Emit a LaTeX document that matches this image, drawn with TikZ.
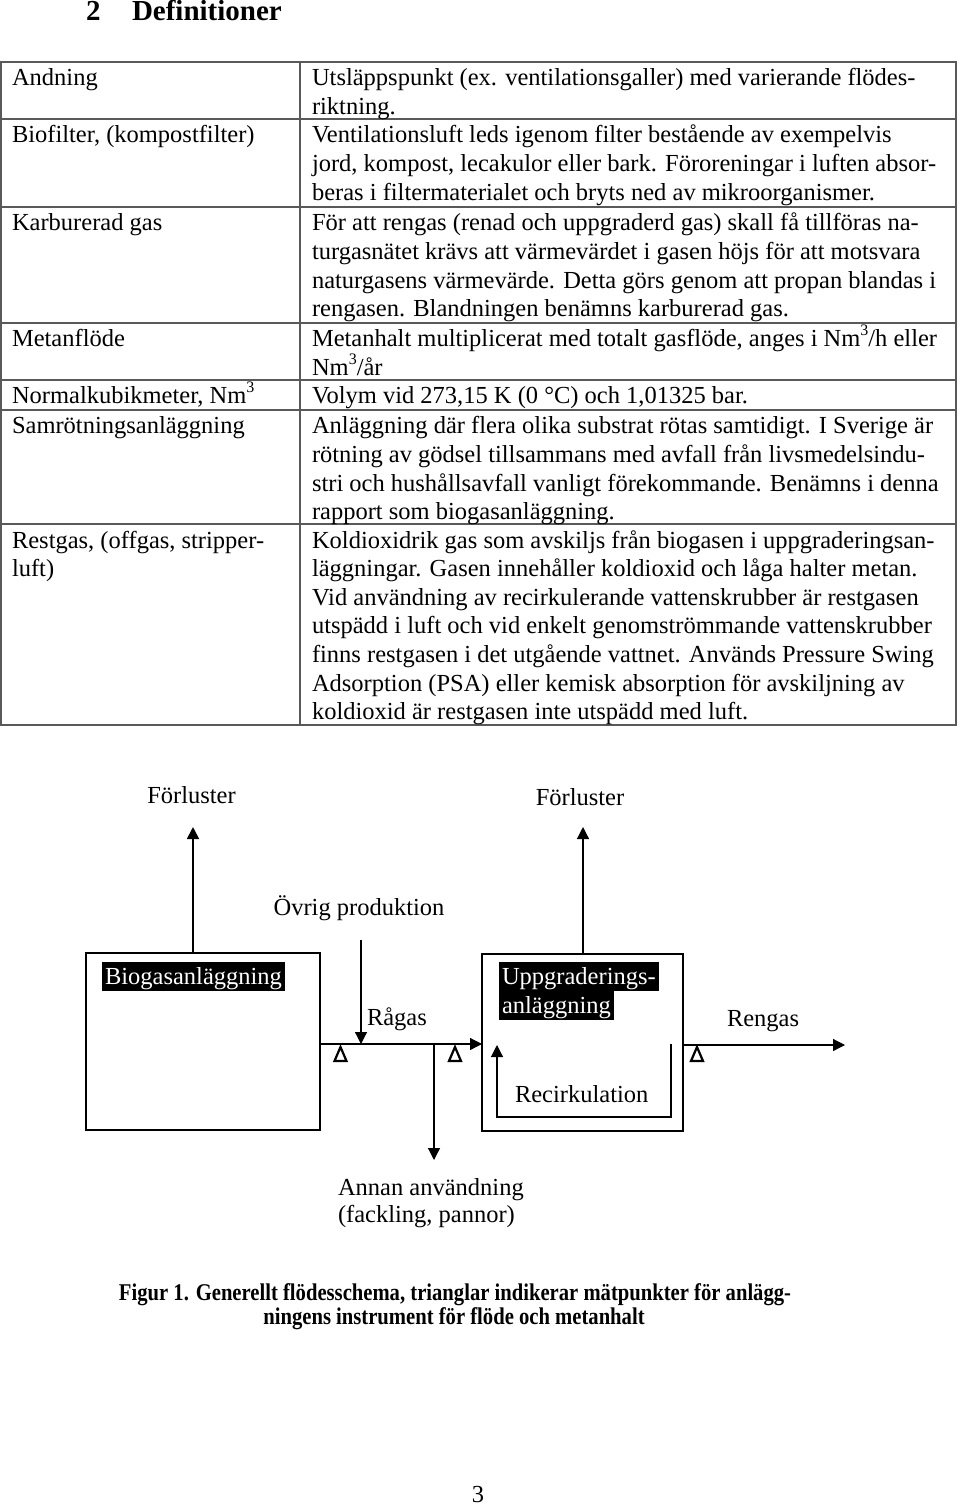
\documentclass[tikz,border=0pt]{standalone}
\usepackage{fontspec}
\setmainfont{Liberation Serif}
\newfontfamily\capfont[FakeStretch=0.86]{Liberation Serif}
\usetikzlibrary{arrows.meta}
\newcommand\supthree{\raisebox{0.45em}{\fontsize{8pt}{8pt}\selectfont 3}}
\begin{document}
\begin{tikzpicture}[x=0.5pt,y=-0.5pt,
  every node/.style={inner sep=0pt, outer sep=0pt},
  txt/.style={anchor=base west, font=\fontsize{12.25pt}{14pt}\selectfont},
  ctxt/.style={anchor=base, font=\fontsize{12.25pt}{14pt}\selectfont},
  tri/.style={draw, line width=1.1pt, line join=miter},
  head/.style={anchor=base west, font=\fontsize{14.5pt}{16pt}\selectfont\bfseries},
  grid/.style={draw=black!65, line width=0.8pt},
  blockbox/.style={draw, line width=1pt},
  arr/.style={-{Triangle[length=6pt,width=6pt]}, line width=0.6pt},
  hl/.style={fill=black, text=white, anchor=base west, font=\fontsize{12.25pt}{14pt}\selectfont,
    text height=11pt, text depth=3.5pt, inner xsep=1.5pt},
  capt/.style={anchor=base, font=\capfont\bfseries\fontsize{12pt}{13pt}\selectfont}]
\fill[white] (0,0) rectangle (960,1507);
\useasboundingbox (0,0) rectangle (960,1507);

% heading
\node[head] (hnum) at (86,21) {2};
\node[head] (htitle) at (132,21) {Definitioner};

% table grid
\draw[grid] (1,62) rectangle (956,725);
\draw[grid] (300,62) -- (300,725);
\foreach \yy in {119,207,323,380,410,524} \draw[grid] (1,\yy) -- (956,\yy);

% left column
\node[txt] (l1) at (12,86) {Andning};
\node[txt] (l2) at (12,143) {Biofilter, (kompostfilter)};
\node[txt] (l3) at (12,231) {Karburerad gas};
\node[txt] (l4) at (12,347) {Metanflöde};
\node[txt] (l5) at (12,404) {Normalkubikmeter, Nm\supthree};
\node[txt] (l6) at (12,434) {Samrötningsanläggning};
\node[txt] (l7a) at (12,548) {Restgas, (offgas, stripper-};
\node[txt] (l7b) at (12,576.6) {luft)};

% right column
\foreach \t [count=\i from 0] in {{Utsläppspunkt (ex. ventilationsgaller) med varierande flödes-},{riktning.}}
  \node[txt] (ra\i) at (312,{86+28.6*\i}) {\t};
\foreach \t [count=\i from 0] in {{Ventilationsluft leds igenom filter bestående av exempelvis},{jord, kompost, lecakulor eller bark. Föroreningar i luften absor-},{beras i filtermaterialet och bryts ned av mikroorganismer.}}
  \node[txt] (rb\i) at (312,{143+28.6*\i}) {\t};
\foreach \t [count=\i from 0] in {{För att rengas (renad och uppgraderd gas) skall få tillföras na-},{turgasnätet krävs att värmevärdet i gasen höjs för att motsvara},{naturgasens värmevärde. Detta görs genom att propan blandas i},{rengasen. Blandningen benämns karburerad gas.}}
  \node[txt] (rc\i) at (312,{231+28.6*\i}) {\t};
\foreach \t [count=\i from 0] in {{Metanhalt multiplicerat med totalt gasflöde, anges i Nm\supthree/h eller},{Nm\supthree/år}}
  \node[txt] (rd\i) at (312,{347+28.6*\i}) {\t};
\node[txt] (re0) at (312,404) {Volym vid 273,15 K (0 °C) och 1,01325 bar.};
\foreach \t [count=\i from 0] in {{Anläggning där flera olika substrat rötas samtidigt. I Sverige är},{rötning av gödsel tillsammans med avfall från livsmedelsindu-},{stri och hushållsavfall vanligt förekommande. Benämns i denna},{rapport som biogasanläggning.}}
  \node[txt] (rf\i) at (312,{434+28.6*\i}) {\t};
\foreach \t [count=\i from 0] in {{Koldioxidrik gas som avskiljs från biogasen i uppgraderingsan-},{läggningar. Gasen innehåller koldioxid och låga halter metan.},{Vid användning av recirkulerande vattenskrubber är restgasen},{utspädd i luft och vid enkelt genomströmmande vattenskrubber},{finns restgasen i det utgående vattnet. Används Pressure Swing},{Adsorption (PSA) eller kemisk absorption för avskiljning av},{koldioxid är restgasen inte utspädd med luft.}}
  \node[txt] (rg\i) at (312,{548+28.6*\i}) {\t};

% diagram blocks
\node[blockbox, minimum width=117pt, minimum height=88.5pt] (bio) at (203,1041.5) {};
\node[blockbox, minimum width=100.5pt, minimum height=88.5pt] (upg) at (582.5,1042.5) {};
\node[hl] (biolab) at (102,984) {Biogasanläggning};
\node[hl] (uplab1) at (499,984) {Uppgraderings-};
\node[hl] (uplab2) at (499,1013) {anläggning};

% labels
\node[ctxt] (fl1) at (191.5,803) {Förluster};
\node[ctxt] (fl2) at (580,805) {Förluster};
\node[ctxt] (ovr) at (359,915) {Övrig produktion};
\node[txt] (rag) at (367,1025) {Rågas};
\node[txt] (ren) at (727,1026) {Rengas};
\node[txt] (rec) at (515,1102) {Recirkulation};
\node[txt] (ann1) at (338,1195) {Annan användning};
\node[txt] (ann2) at (338,1222) {(fackling, pannor)};

% measuring points (triangles)
\coordinate (m1) at (340.5,1061);
\coordinate (m2) at (455,1061);
\coordinate (m3) at (697,1061);
\foreach \m in {m1,m2,m3}
  \draw[tri, shift={(\m)}] (-6,0) -- (0,-14) -- (6,0) -- cycle;

% connector ends
\coordinate (t1) at (193,827);
\coordinate (t2) at (583,827);
\coordinate (ovs) at (361,940);
\coordinate (j1) at (361,1044);
\coordinate (j2) at (434,1044);
\coordinate (ant) at (434,1160);
\coordinate (rgt) at (845,1045);
\coordinate (rc1) at (671,1044);
\coordinate (rc2) at (671,1117);
\coordinate (rc3) at (497,1117);
\coordinate (rc4) at (497,1045);

\draw[arr, line width=0.9pt] (bio.north -| t1) -- (t1);
\draw[arr] (upg.north -| t2) -- (t2);
\draw[arr] (ovs) -- (j1);
\draw[arr] (bio.east |- j1) -- (upg.west |- j1);
\draw[arr] (j2) -- (ant);
\draw[arr] (upg.east |- rgt) -- (rgt);
\draw[arr] (rc1) -- (rc2) -- (rc3) -- (rc4);

% caption
\node[capt] (cap1) at (455,1300) {Figur 1. Generellt flödesschema, trianglar indikerar mätpunkter för anlägg-};
\node[capt] (cap2) at (454,1324) {ningens instrument för flöde och metanhalt};

% page number
\node[ctxt] (pg) at (478,1502) {3};
\end{tikzpicture}
\end{document}
